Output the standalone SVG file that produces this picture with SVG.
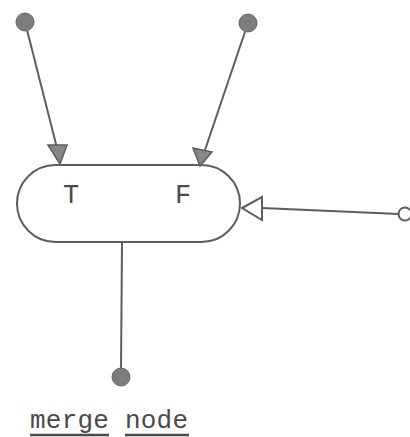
<svg xmlns="http://www.w3.org/2000/svg" width="410" height="437" viewBox="0 0 410 437">
<style>
.ln{stroke:#5e5e5e;stroke-width:2;fill:none}
.dot{fill:#7d7d7d;stroke:#666;stroke-width:1}
.lbl{font-family:"Liberation Mono","Courier New",monospace;fill:#4a4a4a;text-anchor:middle}
</style>
<rect width="410" height="437" fill="#fff"/>
<g id="connectors">
<line class="ln" x1="25" y1="22" x2="57" y2="148"/>
<polygon points="60,164 48,145 67,145" fill="#878787" stroke="#5e5e5e" stroke-width="1.5"/>
<line class="ln" x1="248" y1="23" x2="205" y2="150"/>
<polygon points="200,166 193,148 212,152" fill="#878787" stroke="#5e5e5e" stroke-width="1.5"/>
<line class="ln" x1="399" y1="214" x2="262" y2="208"/>
<polygon points="242,208 262,197 262,220" fill="#fff" stroke="#5e5e5e" stroke-width="2"/>
<line class="ln" x1="122" y1="243" x2="121" y2="370"/>
</g>
<g id="merge">
<rect x="17" y="165" width="223" height="77" rx="38.5" class="ln" stroke-width="3"/>
<text class="lbl" x="71" y="203" font-size="27">T</text>
<text class="lbl" x="183" y="203" font-size="27">F</text>
</g>
<g id="in-t"><circle class="dot" cx="25" cy="22" r="9"/></g>
<g id="in-f"><circle class="dot" cx="248" cy="23" r="9"/></g>
<g id="in-ctrl"><circle cx="405" cy="214" r="6.5" fill="#fff" stroke="#5e5e5e" stroke-width="2"/></g>
<g id="out"><circle class="dot" cx="121" cy="377" r="9"/></g>
<g id="caption">
<text class="lbl" x="109" y="428" font-size="26" textLength="158" lengthAdjust="spacing">merge node</text>
<line x1="30" y1="435" x2="109" y2="435" stroke="#4a4a4a" stroke-width="2.5"/>
<line x1="125" y1="435" x2="189" y2="435" stroke="#4a4a4a" stroke-width="2.5"/>
</g>
</svg>
